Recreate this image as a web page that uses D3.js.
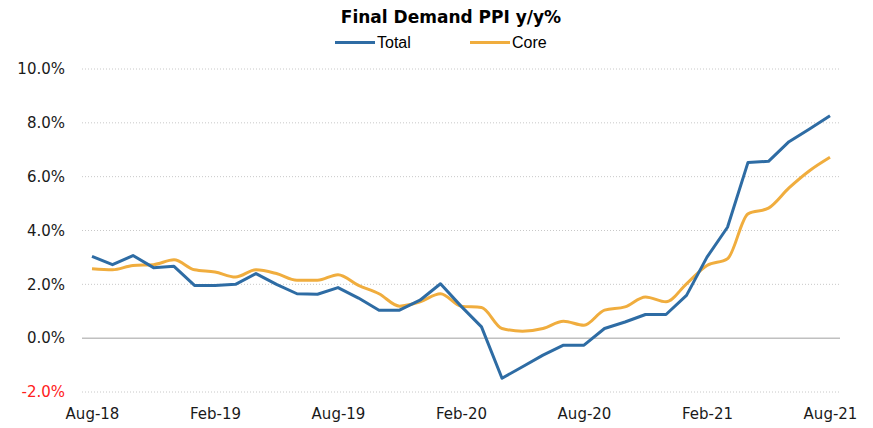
<html>
<head>
<meta charset="utf8">
<title>Final Demand PPI y/y%</title>
<style>
body { margin:0; background:#fff; }
#chart { width:873px; height:428px; }
</style>
<script src="https://cdn.jsdelivr.net/npm/d3@7"></script>
</head>
<body>
<div id="chart"></div>
<script>
var width = 873;
var height = 428;

// monthly, Aug-18 .. Aug-21
var tickLabels = ["Aug-18", "Feb-19", "Aug-19", "Feb-20", "Aug-20", "Feb-21", "Aug-21"];
var tickIndex = [0, 6, 12, 18, 24, 30, 36];
var yTicks = [-2, 0, 2, 4, 6, 8, 10];

var total = [3.04, 2.73, 3.07, 2.62, 2.67, 1.96, 1.96, 2.00, 2.40, 2.00, 1.65, 1.63,
             1.88, 1.49, 1.04, 1.04, 1.41, 2.02, 1.19, 0.42, -1.49, -1.06, -0.63, -0.26,
             -0.26, 0.36, 0.60, 0.88, 0.88, 1.59, 3.01, 4.12, 6.53, 6.57, 7.30, 7.77, 8.26];
var core = [2.58, 2.54, 2.70, 2.73, 2.91, 2.54, 2.46, 2.27, 2.54, 2.40, 2.15, 2.15,
            2.36, 1.96, 1.65, 1.19, 1.35, 1.65, 1.19, 1.14, 0.36, 0.26, 0.36, 0.63,
            0.48, 1.04, 1.16, 1.53, 1.35, 2.02, 2.70, 2.95, 4.62, 4.83, 5.58, 6.22, 6.72];

var blue = "#2e6ca4";
var orange = "#f0ad3e";

var x = d3.scaleLinear().domain([0, 36]).range([92, 830]);
var y = d3.scaleLinear().domain([-2, 10]).range([392, 69]);

var svg = d3.select("#chart").append("svg")
    .attr("width", width)
    .attr("height", height);

// grid lines
svg.append("g").selectAll("line")
    .data(yTicks)
    .enter().append("line")
    .attr("x1", 82).attr("x2", 840)
    .attr("y1", d => y(d)).attr("y2", d => y(d))
    .attr("stroke", d => d === 0 ? "#a0a0a0" : "#c8c8c8")
    .attr("stroke-width", 1)
    .attr("stroke-dasharray", d => d === 0 ? null : "1,2");

// y axis labels
var yAxis = d3.axisLeft(y).tickValues(yTicks).tickSize(0).tickPadding(0)
    .tickFormat(d => d.toFixed(1) + "%");
var gy = svg.append("g").attr("transform", "translate(65,0)").call(yAxis);
gy.select(".domain").remove();
gy.selectAll("text")
    .attr("font-family", "DejaVu Sans")
    .attr("font-size", 15)
    .attr("fill", d => d < 0 ? "#ff2020" : "#1a1a1a");

// x axis labels
var xAxis = d3.axisBottom(x).tickValues(tickIndex).tickSize(0).tickPadding(0)
    .tickFormat((d, i) => tickLabels[i]);
var gx = svg.append("g").attr("transform", "translate(0,408)").call(xAxis);
gx.select(".domain").remove();
gx.selectAll("text")
    .attr("font-family", "DejaVu Sans")
    .attr("font-size", 15)
    .attr("fill", "#1a1a1a");

// lines
var lineT = d3.line().x((d, i) => x(i)).y(d => y(d));
var lineC = d3.line().x((d, i) => x(i)).y(d => y(d)).curve(d3.curveMonotoneX);

svg.append("path").datum(core)
    .attr("d", lineC)
    .attr("fill", "none")
    .attr("stroke", orange)
    .attr("stroke-width", 3);

svg.append("path").datum(total)
    .attr("d", lineT)
    .attr("fill", "none")
    .attr("stroke", blue)
    .attr("stroke-width", 3)
    .attr("stroke-linejoin", "round");

// title
svg.append("text")
    .attr("x", 451).attr("y", 23)
    .attr("text-anchor", "middle")
    .attr("font-family", "DejaVu Sans")
    .attr("font-weight", "bold")
    .attr("font-size", 17)
    .attr("fill", "#000")
    .text("Final Demand PPI y/y%");

// legend
var legend = [{name: "Total", color: blue, x: 335}, {name: "Core", color: orange, x: 470}];
legend.forEach(function(l) {
    svg.append("line")
        .attr("x1", l.x).attr("x2", l.x + 40)
        .attr("y1", 42.5).attr("y2", 42.5)
        .attr("stroke", l.color)
        .attr("stroke-width", 3);
    svg.append("text")
        .attr("x", l.x + 42).attr("y", 48)
        .attr("font-family", "Liberation Sans")
        .attr("font-size", 16)
        .attr("fill", "#000")
        .text(l.name);
});
</script>
</body>
</html>
